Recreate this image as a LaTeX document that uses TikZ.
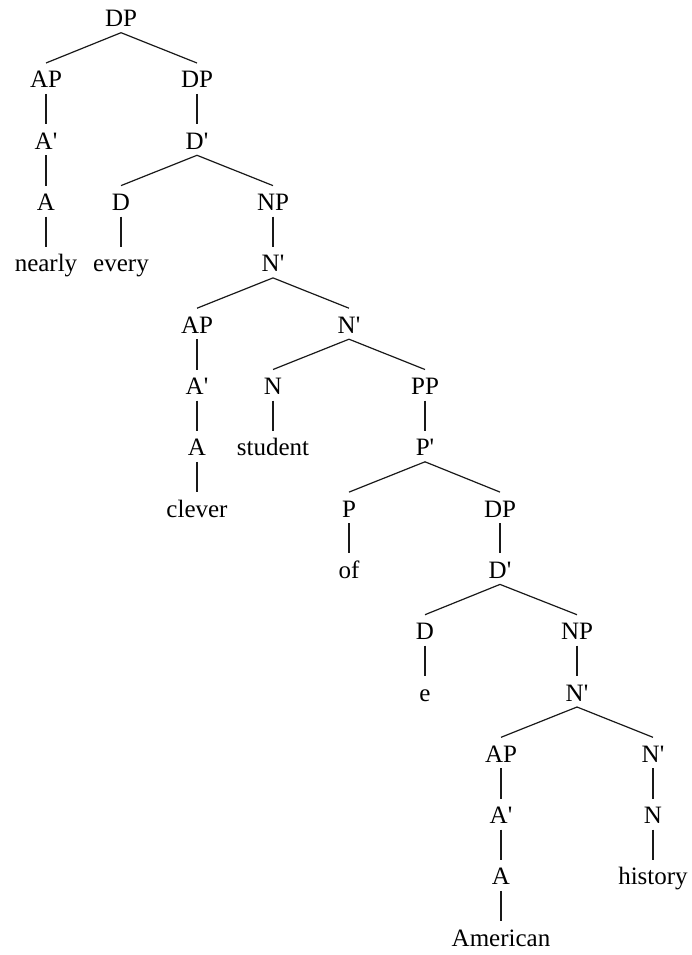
\documentclass[tikz,border=0pt]{standalone}
\usepackage{fontspec}
\setmainfont{Liberation Serif}
\newcommand\prm{\textquotesingle}
\begin{document}
\begin{tikzpicture}[x=1pt,y=-1pt,
  lab/.style={anchor=base,font=\fontsize{25}{30}\selectfont,text height=19pt,text depth=0pt,inner xsep=0pt,inner ysep=6pt,outer sep=0pt},
  edge/.style={line width=1.2pt,draw=black!90}]
\useasboundingbox (0,0) rectangle (691,955);
% level 0
\node[lab] (dp0) at (121,26.7) {DP};
% level 1
\node[lab] (ap1) at (46,88.0) {AP};
\node[lab] (dp1) at (197,88.0) {DP};
% level 2
\node[lab] (ab1) at (46,149.3) {A\prm};
\node[lab] (db1) at (197,149.3) {D\prm};
% level 3
\node[lab] (a1) at (46,210.6) {A};
\node[lab] (d1) at (121,210.6) {D};
\node[lab] (np1) at (273,210.6) {NP};
% level 4
\node[lab] (nearly) at (46,271.9) {nearly};
\node[lab] (every) at (121,271.9) {every};
\node[lab] (nb1) at (273,271.9) {N\prm};
% level 5
\node[lab] (ap2) at (197,333.2) {AP};
\node[lab] (nb2) at (349,333.2) {N\prm};
% level 6
\node[lab] (ab2) at (197,394.5) {A\prm};
\node[lab] (n1) at (273,394.5) {N};
\node[lab] (pp1) at (425,394.5) {PP};
% level 7
\node[lab] (a2) at (197,455.8) {A};
\node[lab] (student) at (273,455.8) {student};
\node[lab] (pb1) at (425,455.8) {P\prm};
% level 8
\node[lab] (clever) at (197,517.1) {clever};
\node[lab] (p1) at (349,517.1) {P};
\node[lab] (dp2) at (500,517.1) {DP};
% level 9
\node[lab] (of) at (349,578.4) {of};
\node[lab] (db2) at (500,578.4) {D\prm};
% level 10
\node[lab] (d2) at (425,639.7) {D};
\node[lab] (np2) at (577,639.7) {NP};
% level 11
\node[lab] (e) at (425,701.0) {e};
\node[lab] (nb3) at (577,701.0) {N\prm};
% level 12
\node[lab] (ap3) at (501,762.3) {AP};
\node[lab] (nb4) at (653,762.3) {N\prm};
% level 13
\node[lab] (ab3) at (501,823.6) {A\prm};
\node[lab] (n2) at (653,823.6) {N};
% level 14
\node[lab] (a3) at (501,884.9) {A};
\node[lab] (history) at (653,884.9) {history};
% level 15
\node[lab] (american) at (501,946.2) {American};
% edges
\draw[edge] (dp0.south) -- (ap1.north);
\draw[edge] (dp0.south) -- (dp1.north);
\draw[edge] (ap1.south) -- (ab1.north);
\draw[edge] (ab1.south) -- (a1.north);
\draw[edge] (a1.south) -- (nearly.north);
\draw[edge] (dp1.south) -- (db1.north);
\draw[edge] (db1.south) -- (d1.north);
\draw[edge] (db1.south) -- (np1.north);
\draw[edge] (d1.south) -- (every.north);
\draw[edge] (np1.south) -- (nb1.north);
\draw[edge] (nb1.south) -- (ap2.north);
\draw[edge] (nb1.south) -- (nb2.north);
\draw[edge] (ap2.south) -- (ab2.north);
\draw[edge] (ab2.south) -- (a2.north);
\draw[edge] (a2.south) -- (clever.north);
\draw[edge] (nb2.south) -- (n1.north);
\draw[edge] (nb2.south) -- (pp1.north);
\draw[edge] (n1.south) -- (student.north);
\draw[edge] (pp1.south) -- (pb1.north);
\draw[edge] (pb1.south) -- (p1.north);
\draw[edge] (pb1.south) -- (dp2.north);
\draw[edge] (p1.south) -- (of.north);
\draw[edge] (dp2.south) -- (db2.north);
\draw[edge] (db2.south) -- (d2.north);
\draw[edge] (db2.south) -- (np2.north);
\draw[edge] (d2.south) -- (e.north);
\draw[edge] (np2.south) -- (nb3.north);
\draw[edge] (nb3.south) -- (ap3.north);
\draw[edge] (nb3.south) -- (nb4.north);
\draw[edge] (ap3.south) -- (ab3.north);
\draw[edge] (ab3.south) -- (a3.north);
\draw[edge] (a3.south) -- (american.north);
\draw[edge] (nb4.south) -- (n2.north);
\draw[edge] (n2.south) -- (history.north);
\end{tikzpicture}
\end{document}
